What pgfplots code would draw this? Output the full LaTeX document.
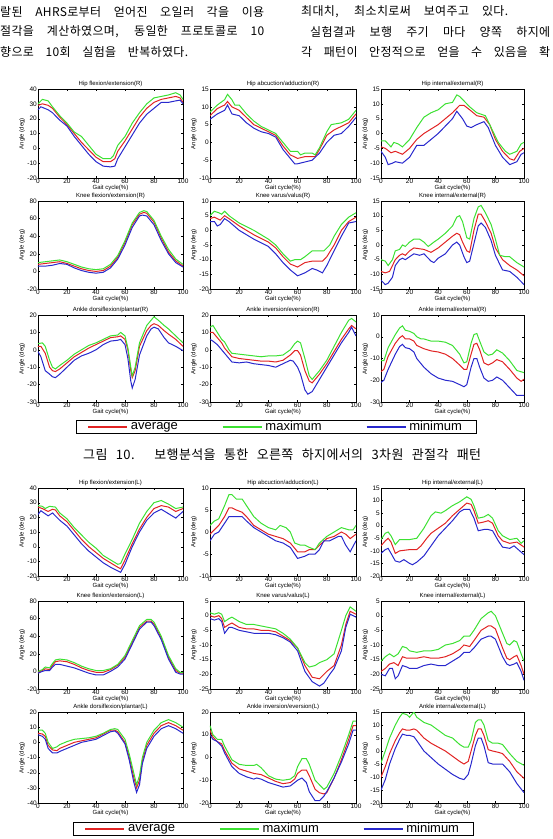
\documentclass[border=0pt]{standalone}
\usepackage{fontspec}
\setmainfont{Liberation Sans}
\newfontfamily\kr[LetterSpace=3]{Noto Sans CJK KR}
\usepackage{pgfplots}
\pgfplotsset{compat=1.18}
\definecolor{cred}{RGB}{225,35,35}
\definecolor{cgreen}{RGB}{60,225,50}
\definecolor{cblue}{RGB}{40,40,205}
\pgfplotsset{
 sub/.style={
  scale only axis, anchor=south west,
  xmin=0, xmax=100, xtick={0,20,40,60,80,100},
  tick align=inside, tick pos=both,
  major tick length=2pt,
  tick style={black, line width=0.3pt},
  axis line style={black, line width=0.4pt},
  ticklabel style={font=\fontsize{6.5}{6.5}\selectfont, inner sep=1pt},
  /pgf/number format/assume math mode=true,
  scaled ticks=false,
  title style={font=\fontsize{6}{6}\selectfont, at={(axis description cs:0.5,1)}, anchor=south, inner sep=0pt, yshift=-3.5pt},
  xlabel={Gait cycle(\%)},
  xlabel style={font=\fontsize{6}{6}\selectfont, at={(axis description cs:0.5,0)}, anchor=north, inner sep=0pt, yshift=-7pt},
  ylabel={Angle (deg)},
  ylabel style={font=\fontsize{6}{6}\selectfont, at={(axis description cs:-0.11,0.5)}, anchor=center, inner sep=0pt},
  every axis plot/.append style={line width=1pt, no markers},
 },
 leg/.style={
  legend columns=3,
  legend cell align=left,
  legend style={draw=black, line width=1pt, font=\fontsize{13}{13}\selectfont,
    inner xsep=11pt, inner ysep=0pt, nodes={inner xsep=3pt, inner ysep=1pt},
    /tikz/every even column/.append style={column sep=41pt}},
  legend image code/.code={\draw[##1, line width=1.5pt] (0pt,0pt) -- (39pt,0pt);},
 }
}
\begin{document}
\begin{tikzpicture}[x=1pt,y=1pt]
\path[use as bounding box] (0,0) rectangle (553,-839);
% body text
\begingroup\kr\fontsize{12}{12}\selectfont
\node[anchor=west, inner sep=0pt] at (0,-12) {\makebox[264pt][s]{랄된 AHRS로부터 얻어진 오일러 각을 이용}};
\node[anchor=west, inner sep=0pt] at (0,-32) {\makebox[264pt][s]{절각을 계산하였으며, 동일한 프로토콜로 10}};
\node[anchor=west, inner sep=0pt] at (0,-52) {\makebox[188pt][s]{향으로 10회 실험을 반복하였다.}};
\node[anchor=west, inner sep=0pt] at (301,-12) {\makebox[207pt][s]{최대치, 최소치로써 보여주고 있다.}};
\node[anchor=west, inner sep=0pt] at (310,-32) {\makebox[240pt][s]{실험결과 보행 주기 마다 양쪽 하지에}};
\node[anchor=west, inner sep=0pt] at (301,-52) {\makebox[249pt][s]{각 패턴이 안정적으로 얻을 수 있음을 확}};
\endgroup
\node[anchor=west, inner sep=0pt] at (83,-455) {\kr\fontsize{13}{13}\selectfont\makebox[398pt][s]{그림 10. 보행분석을 통한 오른쪽 하지에서의 3차원 관절각 패턴}};

% ---------------- Right side ----------------
% Row 1
\begin{axis}[sub, at={(38pt,-178pt)}, width=145pt, height=89pt, ymin=-20, ymax=40, ytick={-20,-10,...,40}, title={Hip flexion/extension(R)}]
\addplot[cred] coordinates {(0,29)(3,30)(7,29)(10,27)(15,21)(20,16)(25,10)(30,4)(35,-1)(40,-6)(45,-9)(50,-9)(53,-7)(55,-2)(60,5)(65,13)(70,21)(75,27)(80,31)(85,33)(90,34)(95,35)(98,34)(100,31)};
\addplot[cgreen] coordinates {(0,30)(3,33)(7,32)(10,28)(15,22)(20,17)(25,11)(30,8)(35,2)(40,-4)(45,-7)(50,-7)(52,-5)(55,2)(60,8)(65,17)(70,24)(75,30)(80,34)(85,35)(90,36)(95,37.5)(98,36)(100,33)};
\addplot[cblue] coordinates {(0,26)(2,28)(7,26)(10,24)(15,19)(20,15)(25,8)(30,2)(35,-4)(40,-9)(45,-12)(50,-12.5)(53,-12)(55,-7)(60,1)(65,9)(70,17)(75,23)(80,27)(85,31)(90,31)(95,32)(98,32.5)(100,30)};
\end{axis}
\begin{axis}[sub, at={(210pt,-178pt)}, width=146pt, height=89pt, ymin=-10, ymax=15, ytick={-10,-5,...,15}, title={Hip abcuction/adduction(R)}]
\addplot[cred] coordinates {(0,7.5)(5,9.5)(10,10.5)(12,11.5)(15,10)(20,9)(25,7)(30,5)(35,4)(40,3)(45,2)(50,-1)(55,-3.5)(60,-4.5)(65,-4)(70,-4)(72,-4)(75,-2)(80,2)(85,3.5)(90,4.5)(95,5.5)(100,8)};
\addplot[cgreen] coordinates {(0,8.5)(5,10.5)(10,12)(12,13.5)(15,12)(17,10.5)(20,10.5)(25,8)(30,6)(35,4.5)(40,3.5)(45,2.5)(50,0)(55,-2.5)(60,-2.5)(62,-3.5)(65,-3)(70,-3)(72,-3.5)(75,-1.5)(80,3)(83,5)(90,5.5)(95,6.5)(100,9)};
\addplot[cblue] coordinates {(0,6.5)(5,8)(10,9)(12,10.5)(15,8)(20,7.5)(25,5.5)(30,4)(35,3)(40,2.5)(45,1.5)(50,-2)(55,-4.5)(58,-6)(60,-6)(65,-5.5)(70,-5)(75,-3)(80,0)(85,2)(90,2.5)(95,4.5)(100,7)};
\end{axis}
\begin{axis}[sub, at={(381pt,-178pt)}, width=143pt, height=89pt, ymin=-15, ymax=15, ytick={-15,-10,...,15}, title={Hip internal/external(R)}]
\addplot[cred] coordinates {(0,-4.5)(3,-5)(7,-6.5)(10,-6)(15,-7)(20,-5)(25,-2)(30,0)(35,1.5)(40,3)(45,5)(50,7)(55,9.5)(58,9.5)(62,8)(67,6)(72,5.5)(76,3)(80,-2)(85,-6)(90,-8.5)(93,-9)(97,-6)(100,-5)};
\addplot[cgreen] coordinates {(0,-2.5)(3,-2.5)(7,-4.5)(9,-3)(12,-3.5)(15,-4.5)(20,-2)(25,2)(30,5.5)(35,7)(40,8)(45,10)(50,10.5)(53,13)(55,12.5)(58,11)(62,9)(67,7)(70,6.5)(73,6)(78,1)(82,-3)(87,-6)(90,-7)(95,-6)(98,-3.5)(100,-3)};
\addplot[cblue] coordinates {(0,-6)(3,-8)(5,-10.5)(8,-10)(10,-9.5)(15,-10)(20,-8)(25,-4)(30,-4)(35,-2)(40,0)(45,2.5)(50,5)(53,7.5)(57,5)(60,2.5)(63,2)(67,3)(72,4)(75,2)(80,-4)(85,-8)(90,-10.5)(95,-9.5)(98,-7)(100,-6.5)};
\end{axis}
% Row 2
\begin{axis}[sub, at={(38pt,-289pt)}, width=145pt, height=88pt, ymin=-20, ymax=80, ytick={-20,0,...,80}, title={Knee flexion/extension(R)}]
\addplot[cred] coordinates {(0,8)(5,9)(10,10)(15,11)(20,9)(25,6)(30,3)(35,1)(40,0)(45,1)(50,6)(55,16)(60,33)(65,53)(70,65)(73,67)(75,66)(80,56)(85,38)(90,22)(95,12)(100,6)};
\addplot[cgreen] coordinates {(0,10)(5,11)(10,12)(15,13)(20,11)(25,8)(30,5)(35,3)(40,2)(45,3)(50,8)(55,18)(60,35)(65,55)(70,67)(73,69)(75,68)(80,58)(85,40)(90,25)(95,14)(100,8)};
\addplot[cblue] coordinates {(0,6)(5,6)(10,7)(15,9)(20,8)(25,4)(30,1)(35,-1)(40,-2)(45,-1)(50,4)(55,14)(60,30)(65,50)(70,63)(72,64)(75,63)(80,53)(85,35)(90,20)(95,10)(100,5)};
\end{axis}
\begin{axis}[sub, at={(210pt,-289pt)}, width=146pt, height=88pt, ymin=-20, ymax=10, ytick={-20,-15,...,10}, title={Knee varus/valus(R)}]
\addplot[cred] coordinates {(0,4)(3,4.5)(7,3.5)(10,5)(13,4)(20,1.5)(30,-1.5)(40,-4)(45,-6)(50,-9)(55,-11.5)(60,-12.5)(65,-11)(70,-10.5)(77,-10.5)(80,-9)(85,-5)(90,0)(95,3)(100,4.5)};
\addplot[cgreen] coordinates {(0,5)(3,6.5)(6,6)(8,5.5)(10,6.5)(13,5)(20,2.5)(30,0)(40,-3)(45,-5)(50,-8)(55,-10.5)(58,-10)(62,-10)(65,-9)(70,-7)(75,-7)(78,-7)(82,-5)(85,-2)(90,2)(95,4.5)(100,6)};
\addplot[cblue] coordinates {(0,3)(3,3)(5,1.5)(7,2)(10,4)(13,3)(20,0)(30,-3)(40,-5.5)(45,-8)(50,-11)(55,-13.5)(60,-15.5)(65,-14.5)(70,-13)(73,-13.5)(77,-14.5)(80,-12)(85,-7)(90,-2)(95,2.5)(100,3)};
\end{axis}
\begin{axis}[sub, at={(381pt,-289pt)}, width=143pt, height=88pt, ymin=-15, ymax=15, ytick={-15,-10,...,15}, title={Knee internal/external(R)}]
\addplot[cred] coordinates {(0,-9)(3,-9.5)(6,-9)(8,-7)(10,-5)(13,-3.5)(15,-3)(17,-3.5)(20,-2)(23,-1)(30,-1.5)(35,-2.5)(40,-1)(45,1)(50,3)(53,4)(55,3.5)(57,1)(60,-2)(62,-2.5)(65,5)(68,10.5)(70,10.5)(73,8)(77,4)(80,-1)(85,-5)(90,-7)(95,-8.5)(100,-10.5)};
\addplot[cgreen] coordinates {(0,-5)(3,-5.5)(5,-7)(8,-5)(10,-2)(13,-1.5)(15,0)(17,-0.5)(20,1)(23,2)(27,2)(30,1)(33,-0.5)(37,1)(40,2)(45,4)(50,6.5)(53,9.5)(55,10)(57,8)(60,2.5)(62,2)(65,9)(68,13)(70,13.5)(73,11)(77,7)(80,2)(83,-3.5)(87,-4)(90,-4)(95,-6)(100,-7.5)};
\addplot[cblue] coordinates {(0,-12)(3,-13.5)(5,-13)(8,-11)(10,-7)(13,-5)(15,-4.5)(17,-5)(20,-4)(23,-3)(27,-3.5)(30,-3)(35,-5.5)(37,-6)(40,-4.5)(45,-3)(50,0)(53,1)(55,0)(58,-4)(60,-6)(62,-5.5)(65,0.5)(68,6.5)(70,7.5)(73,6)(77,1.5)(80,-3.5)(85,-8.5)(90,-9)(95,-11)(100,-13.5)};
\end{axis}
% Row 3
\begin{axis}[sub, at={(38pt,-402pt)}, width=145pt, height=87pt, ymin=-30, ymax=20, ytick={-30,-20,...,20}, title={Ankle dorsiflexion/plantar(R)}]
\addplot[cred] coordinates {(0,2)(2,2)(5,-2)(8,-10)(10,-12)(12,-12.5)(15,-11)(20,-7.5)(25,-4)(30,-1.5)(35,1)(40,3)(45,5)(50,7)(55,7.5)(57,8)(60,6)(62,0)(64,-12)(65,-16)(67,-12)(70,2)(75,11)(78,14)(80,15)(83,14)(87,11)(90,9)(95,6)(100,2)};
\addplot[cgreen] coordinates {(0,3.5)(3,4)(5,2)(8,-6)(10,-10)(12,-11)(15,-9)(20,-6)(25,-2.5)(30,0)(35,2.5)(40,4)(45,6)(50,8)(55,8.5)(57,10)(60,8)(62,1)(64,-10)(65,-15)(67,-10)(70,4)(75,14)(78,17)(80,19)(83,17)(87,14)(90,12)(95,8)(100,4)};
\addplot[cblue] coordinates {(0,-1)(2,-4)(5,-12)(8,-14)(10,-15.5)(12,-16)(15,-14)(20,-10)(25,-6)(30,-3.5)(35,-2)(40,0)(45,3)(50,5)(55,5.5)(57,6)(60,3)(62,-5)(64,-18)(65,-22)(67,-17)(70,-3)(75,8)(78,12)(80,13)(83,12)(87,7)(90,4)(95,2)(100,-0.5)};
\end{axis}
\begin{axis}[sub, leg, at={(210pt,-402pt)}, width=146pt, height=87pt, ymin=-30, ymax=20, ytick={-30,-20,...,20}, title={Ankle inversion/eversion(R)},
  legend style={at={(axis description cs:-0.918,-0.207)}, anchor=north west}]
\addplot[cred] coordinates {(0,10)(2,10)(5,7)(8,4)(10,1)(13,-2)(15,-4)(20,-5)(25,-5.5)(30,-6)(35,-6.5)(40,-6.5)(45,-7)(50,-6)(55,-3)(58,-0.5)(60,-0.5)(62,-3)(65,-12)(68,-18)(70,-19)(75,-14)(80,-8)(85,-1)(90,6)(95,12)(97,14)(100,12)};
\addplot[cgreen] coordinates {(0,13)(2,14)(5,10)(8,6)(10,4.5)(13,0)(15,-2)(20,-2.5)(25,-3)(30,-3.5)(35,-4)(40,-3.5)(45,-3.5)(50,-3)(55,0)(58,3.5)(60,5)(62,4)(65,-5)(68,-15)(70,-17)(75,-12)(80,-6)(85,2)(90,10)(95,17)(97,18)(100,16)};
\addplot[cblue] coordinates {(0,6)(2,5)(5,3)(8,0)(10,-2)(13,-5)(15,-7)(20,-7.5)(25,-7)(30,-8)(35,-8.5)(40,-9)(45,-10)(50,-8)(55,-6)(57,-6.5)(60,-10)(62,-14)(65,-23)(67,-25.5)(70,-24)(75,-17)(80,-10)(85,-3)(90,4)(95,10)(97,13)(100,8)};
\legend{average,maximum,minimum}
\end{axis}
\begin{axis}[sub, at={(381pt,-402pt)}, width=143pt, height=87pt, ymin=-30, ymax=10, ytick={-30,-20,...,10}, title={Ankle internal/external(R)}]
\addplot[cred] coordinates {(0,-16)(2,-15)(5,-9)(10,-3)(13,-0.5)(15,0.5)(17,-1)(20,-1)(23,-2)(25,-4)(30,-5.5)(35,-6.5)(40,-7)(45,-8)(50,-10)(55,-13)(58,-15)(60,-15)(63,-8)(65,-3.5)(67,-3)(69,-6)(72,-12)(75,-13)(78,-12)(81,-10.5)(85,-11.5)(90,-15)(95,-19)(98,-20.5)(100,-19.5)};
\addplot[cgreen] coordinates {(0,-11)(2,-11)(5,-5)(10,1)(13,4)(15,5)(17,3)(20,2.5)(23,1.5)(25,0)(28,-1)(30,-1)(35,-2)(40,-2)(45,-2.5)(50,-4)(55,-8)(58,-12)(60,-11.5)(63,-3)(65,1)(67,1.5)(69,-2)(72,-7)(75,-8.5)(78,-8)(81,-6)(85,-7.5)(90,-11)(95,-15.5)(100,-16.5)};
\addplot[cblue] coordinates {(0,-21)(2,-20)(5,-15)(10,-8)(13,-4.5)(15,-3.5)(17,-5)(20,-5.5)(23,-7)(25,-10)(30,-14)(35,-17)(40,-19)(45,-20)(50,-20.5)(55,-22)(58,-23)(60,-22)(63,-14)(65,-10)(67,-10)(69,-14)(72,-19)(75,-20.5)(78,-20)(81,-18.5)(85,-20)(90,-23.5)(95,-27)(100,-27)};
\end{axis}

% ---------------- Left side ----------------
% Row 4
\begin{axis}[sub, at={(38pt,-576pt)}, width=145pt, height=88pt, ymin=-20, ymax=40, ytick={-20,-10,...,40}, title={Hip flexion/extension(L)}]
\addplot[cred] coordinates {(0,27)(3,26)(7,24)(10,25.5)(12,25)(15,21)(20,17)(25,11)(30,5)(35,0)(40,-4)(45,-8)(50,-11)(55,-14)(57,-15)(60,-9)(65,2)(70,12)(75,20)(80,26)(85,28)(90,27)(95,24)(100,26)};
\addplot[cgreen] coordinates {(0,28)(3,27.5)(5,26)(8,27.5)(12,27)(15,23)(20,19)(25,13)(30,8)(35,3)(40,-1)(45,-6)(50,-9)(55,-12)(57,-11.5)(60,-5)(65,5)(70,16)(75,24)(80,30)(85,31.5)(90,29)(95,26)(100,27)};
\addplot[cblue] coordinates {(0,22)(2,24.5)(7,21)(10,23)(15,18)(20,14)(25,8)(30,2)(35,-3)(40,-7)(45,-11)(50,-14)(55,-16.5)(57,-17.5)(60,-12)(65,0)(70,10)(75,18)(80,23)(85,25.5)(90,22.5)(95,19.5)(100,24)};
\end{axis}
\begin{axis}[sub, at={(210pt,-576pt)}, width=146pt, height=88pt, ymin=-10, ymax=10, ytick={-10,-5,...,10}, title={Hip abcuction/adduction(L)}]
\addplot[cred] coordinates {(0,-0.5)(3,0.5)(6,1.5)(10,3.5)(13,5.5)(15,5.5)(18,5)(22,4.5)(25,3.5)(30,1.5)(35,0.5)(40,-0.5)(45,-1)(50,-1.5)(55,-2.5)(60,-4.5)(65,-4.5)(68,-4)(72,-4)(75,-3)(80,-1.5)(85,-1)(90,0)(93,-0.5)(96,-1.5)(100,-0.5)};
\addplot[cgreen] coordinates {(0,1.5)(3,2.5)(6,3)(10,6)(13,8.5)(15,8.5)(18,7.5)(22,7.5)(25,6)(30,3.5)(35,2)(40,1)(45,0.5)(48,1.5)(52,1)(55,0)(58,-2.5)(62,-3)(65,-3)(68,-3.5)(72,-4)(75,-2.5)(80,-1)(85,0)(90,1)(95,0.5)(98,0.5)(100,1.5)};
\addplot[cblue] coordinates {(0,-2)(3,-0.5)(6,0)(10,2)(13,3.5)(15,3.5)(18,3.5)(22,3.5)(25,2.5)(30,1)(35,0)(40,-1)(45,-2)(50,-2.5)(55,-3.5)(60,-6)(65,-5.5)(68,-5)(72,-5)(75,-4)(78,-2)(82,-2)(85,-1.5)(88,-1)(90,-1)(93,-3)(96,-4.5)(100,-2)};
\end{axis}
\begin{axis}[sub, at={(381pt,-576pt)}, width=143pt, height=88pt, ymin=-20, ymax=15, ytick={-20,-15,...,15}, title={Hip internal/external(L)}]
\addplot[cred] coordinates {(0,-8)(3,-6)(5,-5)(7,-6.5)(10,-11)(13,-10)(20,-9.5)(25,-9.5)(28,-8)(32,-5)(35,-3)(40,-1)(45,1)(50,4)(55,6.5)(60,9)(63,8.5)(65,6)(68,1)(72,1.5)(75,2)(78,1)(82,-4)(85,-6)(90,-7)(95,-6.5)(100,-8.5)};
\addplot[cgreen] coordinates {(0,-5.5)(3,-3)(5,-2.5)(7,-4)(10,-7.5)(13,-5.5)(20,-5.5)(25,-5)(30,-1)(35,4)(38,5.5)(42,5)(45,6)(50,8)(55,9.5)(60,11.5)(63,10.5)(65,8)(68,3)(72,3.5)(75,4.5)(78,3)(82,-2)(85,-4)(90,-5.5)(95,-5)(98,-7)(100,-6)};
\addplot[cblue] coordinates {(0,-11)(3,-9.5)(5,-9)(7,-11)(10,-14)(13,-14.5)(16,-13.5)(20,-15)(22,-15.5)(25,-14.5)(30,-12)(35,-8)(40,-4)(45,-1)(50,2)(55,5.5)(58,6.5)(62,6.5)(65,3)(68,-2)(72,-1.5)(75,-1.5)(78,-2)(82,-6)(85,-8.5)(90,-9)(93,-8)(97,-10)(100,-11.5)};
\end{axis}
% Row 5
\begin{axis}[sub, at={(38pt,-689pt)}, width=145pt, height=88pt, ymin=-20, ymax=80, ytick={-20,0,...,80}, title={Knee flexion/extension(L)}]
\addplot[cred] coordinates {(0,-1)(3,1)(5,3)(8,2)(10,7)(12,11)(15,12)(20,11)(25,8)(30,4)(35,1)(40,-1)(45,-1)(50,2)(55,7)(60,16)(65,33)(70,50)(75,57)(78,57)(80,54)(85,38)(90,16)(95,1)(98,-2)(100,-2)};
\addplot[cgreen] coordinates {(0,0)(3,2)(5,5)(8,4)(10,9)(12,13)(15,14)(20,13)(25,10)(30,6)(35,3)(40,1)(45,1)(50,3)(55,8)(60,18)(65,35)(70,52)(75,59)(78,59)(80,56)(85,40)(90,18)(95,3)(98,-1)(100,-1)};
\addplot[cblue] coordinates {(0,-2)(3,0)(5,1)(8,1)(10,5)(12,8)(15,8)(20,6)(25,4)(30,1)(35,-2)(40,-4)(45,-4)(50,0)(55,5)(60,14)(65,31)(70,48)(75,56)(78,56)(80,52)(85,36)(90,14)(95,-1)(98,-3)(100,-3)};
\end{axis}
\begin{axis}[sub, at={(210pt,-689pt)}, width=146pt, height=88pt, ymin=-25, ymax=5, ytick={-25,-20,...,5}, title={Knee varus/valus(L)}]
\addplot[cred] coordinates {(0,0)(3,-0.5)(6,0)(8,-1)(10,-4)(13,-3)(15,-2.5)(20,-4)(25,-4.5)(30,-4.5)(35,-5)(40,-5)(45,-5.5)(50,-7)(55,-8.5)(60,-11)(65,-17)(70,-21)(75,-21.5)(80,-19)(85,-17)(90,-10)(93,-3)(96,1.5)(100,0.5)};
\addplot[cgreen] coordinates {(0,1)(3,0.5)(6,1)(8,0.5)(10,-2)(13,-1)(15,-0.5)(20,-2)(25,-3)(30,-3)(35,-3.5)(40,-4)(45,-4.5)(50,-6)(55,-8)(60,-11)(65,-16)(68,-17.5)(72,-17)(75,-16)(80,-15)(85,-13)(90,-5)(93,0)(96,3)(100,1.5)};
\addplot[cblue] coordinates {(0,-1)(3,-1.5)(6,-1)(8,-2)(10,-6)(13,-4)(15,-4)(20,-5)(25,-5.5)(30,-6)(35,-6)(40,-6)(45,-6.5)(50,-7.5)(55,-9)(60,-12)(65,-19)(70,-22.5)(75,-24)(78,-23)(82,-20)(85,-18)(90,-12)(93,-4)(96,0.5)(100,-0.5)};
\end{axis}
\begin{axis}[sub, at={(381pt,-689pt)}, width=143pt, height=88pt, ymin=-25, ymax=5, ytick={-25,-20,...,5}, title={Knee internal/external(L)}]
\addplot[cred] coordinates {(0,-19)(3,-18)(6,-16.5)(9,-16)(12,-17)(15,-14)(18,-14.5)(20,-14.5)(25,-14.5)(30,-14)(35,-14.5)(40,-14.5)(45,-14)(50,-13)(55,-11.5)(58,-10)(62,-10.5)(65,-8.5)(70,-5)(75,-3.5)(77,-3.5)(80,-4.5)(85,-11)(88,-14.5)(90,-15)(93,-14)(95,-13.5)(98,-17)(100,-20)};
\addplot[cgreen] coordinates {(0,-15.5)(3,-14)(6,-13)(9,-14)(12,-13)(15,-10.5)(18,-11)(20,-12)(25,-12.5)(30,-12)(35,-12)(40,-11.5)(45,-10)(50,-9.5)(55,-8.5)(58,-7)(62,-7)(65,-5)(70,-1)(75,1)(77,1.5)(80,0)(85,-6)(88,-9.5)(90,-10)(93,-8.5)(95,-9)(98,-13)(100,-15.5)};
\addplot[cblue] coordinates {(0,-20)(3,-20.5)(6,-18)(8,-18)(10,-21.5)(12,-20.5)(15,-17)(18,-17.5)(20,-18)(25,-18)(30,-17)(35,-16.5)(40,-17)(45,-17)(50,-15.5)(55,-14)(58,-12.5)(62,-12.5)(65,-11)(70,-8)(75,-7)(77,-7)(80,-8)(85,-14)(88,-16.5)(90,-17)(93,-16.5)(95,-16)(98,-19)(100,-22)};
\end{axis}
% Row 6
\begin{axis}[sub, at={(38pt,-803pt)}, width=145pt, height=91pt, ymin=-40, ymax=20, ytick={-40,-30,...,20}, title={Ankle dorsiflexion/plantar(L)}]
\addplot[cred] coordinates {(0,6)(3,5.5)(5,4)(7,-2)(10,-5)(13,-5.5)(15,-4)(20,-2)(25,0)(30,1)(35,2)(40,3)(45,5.5)(50,8)(53,8)(55,7)(60,0)(63,-10)(66,-23)(68,-30)(70,-25)(72,-12)(75,-2)(80,6)(85,11)(90,13)(95,11)(100,8)};
\addplot[cgreen] coordinates {(0,8)(3,8)(5,6)(7,0)(10,-4)(13,-3)(15,-1.5)(20,0.5)(25,2)(30,2.5)(35,3)(40,4)(45,6)(50,8.5)(53,9)(55,8.5)(60,2)(63,-8)(66,-20)(68,-28)(70,-22)(72,-10)(75,0)(80,8)(85,13)(90,15)(95,13)(100,10)};
\addplot[cblue] coordinates {(0,5)(3,4)(5,2)(7,-4)(10,-7)(13,-7)(15,-6)(20,-4)(25,-2)(30,0)(35,1)(40,2)(45,4.5)(50,7)(53,7.5)(55,6)(60,-1)(63,-12)(66,-26)(68,-33)(70,-28)(72,-14)(75,-4)(80,4)(85,9)(90,11)(95,9)(100,6)};
\end{axis}
\begin{axis}[sub, leg, at={(210pt,-803pt)}, width=146pt, height=91pt, ymin=-20, ymax=20, ytick={-20,-10,...,20}, title={Ankle inversion/eversion(L)},
  legend style={at={(axis description cs:-0.938,-0.209)}, anchor=north west}]
\addplot[cred] coordinates {(0,12)(2,9)(5,7)(8,6)(10,3)(15,-2.5)(20,-5)(25,-6)(30,-7)(35,-7.5)(40,-9)(45,-10.5)(50,-11.5)(55,-11)(58,-9.5)(60,-7)(63,-5.5)(66,-5.5)(68,-8)(72,-14)(75,-15.5)(78,-16)(80,-15.5)(85,-9)(90,-1)(95,8)(98,14)(100,14)};
\addplot[cgreen] coordinates {(0,14)(2,10)(5,8)(8,8)(10,5)(15,-1)(20,-3)(25,-3.5)(30,-3.5)(32,-3)(35,-4.5)(40,-8)(45,-9.5)(50,-10)(55,-9.5)(58,-8)(60,-4)(63,-0.5)(66,-0.5)(68,-3)(72,-10)(75,-12)(78,-14)(80,-13)(85,-7)(90,1)(95,10)(98,16)(100,16)};
\addplot[cblue] coordinates {(0,10)(2,8)(5,7)(8,5)(10,2)(15,-4)(20,-7)(25,-8.5)(30,-9.5)(32,-9)(35,-9.5)(40,-11)(45,-12)(50,-13)(55,-12.5)(58,-11)(60,-10)(63,-9)(66,-11)(68,-15)(72,-19)(75,-19)(78,-17)(80,-15)(85,-9)(90,-2)(95,6)(98,12)(100,12)};
\legend{average,maximum,minimum}
\end{axis}
\begin{axis}[sub, at={(381pt,-803pt)}, width=143pt, height=91pt, ymin=-20, ymax=15, ytick={-20,-15,...,15}, title={Ankle internal/external(L)}]
\addplot[cred] coordinates {(0,-10)(3,-6)(6,-1)(10,4)(13,7)(15,8.5)(18,8)(20,8)(23,8.5)(25,8)(30,5)(35,3)(40,1.5)(45,0)(50,-2)(55,-4)(58,-5)(61,-4)(63,0)(66,6)(68,8.5)(70,8.5)(72,6)(75,0.5)(78,0)(82,-0.5)(85,-1)(90,-4)(95,-8)(100,-10.5)};
\addplot[cgreen] coordinates {(0,-4.5)(3,0)(6,5)(10,10)(13,13)(15,14.5)(18,14)(20,13)(23,15)(25,13)(30,11)(35,10)(40,8)(45,6)(50,5)(55,2.5)(58,1.5)(61,1.5)(63,4)(66,11)(68,12)(70,12)(72,10)(75,4)(78,3)(82,3)(85,2.5)(90,-1)(95,-4)(100,-5.5)};
\addplot[cblue] coordinates {(0,-15)(3,-11)(6,-5)(10,1)(13,4.5)(15,6.5)(18,6)(20,6)(23,5.5)(25,4)(30,0)(35,-2.5)(40,-5)(45,-7)(50,-9)(55,-10.5)(58,-11)(61,-9)(63,-5)(66,2)(68,5)(70,5)(72,2)(75,-4.5)(78,-5)(82,-5)(85,-5)(90,-8)(95,-12.5)(100,-16)};
\end{axis}
\end{tikzpicture}
\end{document}
